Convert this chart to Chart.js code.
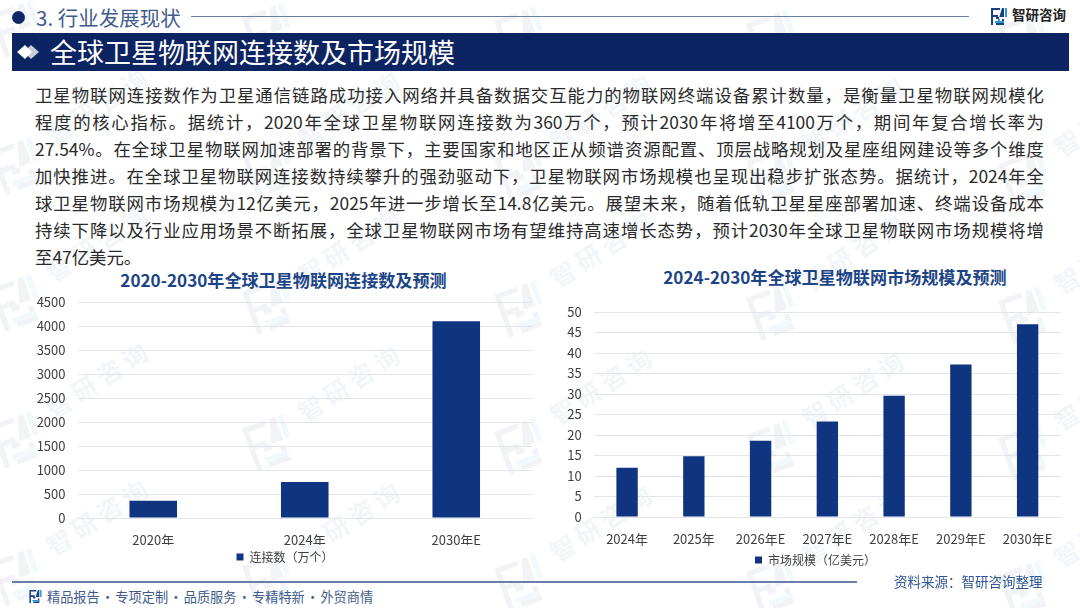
<!DOCTYPE html>
<html lang="zh"><head><meta charset="utf-8">
<script src="https://cdn.jsdelivr.net/npm/chart.js@4"></script>
<style>
html,body{margin:0;padding:0;background:#fff}
#page{position:relative;width:1080px;height:608px;overflow:hidden;background:#fff;font-family:"Noto Sans CJK SC","Noto Sans",sans-serif}
#page>*{position:absolute}
.wm{color:#d5dfec;opacity:.3;font-size:25px;font-weight:700;letter-spacing:5px;transform:rotate(-33deg);white-space:nowrap}
.wl{opacity:.055;transform:rotate(-20deg)}
.line{left:35px;width:1009px;height:27px;line-height:27px;font-size:17.4px;color:#2a2a2a;text-align:justify;text-align-last:justify;white-space:nowrap}
.ct{font-size:17.1px;font-weight:700;color:#1c4587;white-space:nowrap;transform:translateX(-50%)}
canvas{display:block}
</style></head><body>
<div id="page">
  <div id="wms" style="left:0;top:0;width:1080px;height:608px;position:absolute"></div>
  <div style="left:12px;top:11px;width:13px;height:13px;border-radius:50%;background:#10286a"></div>
  <div style="left:36px;top:1px;font-size:20.5px;line-height:32px;color:#3f5c8c;white-space:nowrap">3. 行业发展现状</div>
  <div style="left:191px;top:15.5px;width:778px;height:1.5px;background:#6a7ea8"></div>
  <svg style="left:991px;top:8px" width="16" height="17" viewBox="0 0 16 17"><path d="M0 0h9v2H2v5h5v2H2v8H0z M11 0h2v9H5v2h6v4H5v2h8v-6H8v-1" fill="#1d3f86"/><path d="M14 0h2v9h-2z M7 11h2v2H7z M4 13h9v2H4z" fill="#2a9ad6"/></svg>
  <div style="left:1012px;top:2px;font-size:13.5px;line-height:24px;font-weight:700;color:#222;white-space:nowrap">智研咨询</div>
  <div style="left:12px;top:33px;width:1057px;height:38px;background:#0c2461"></div>
  <svg style="left:16px;top:43px" width="26" height="18" viewBox="0 0 26 18"><path d="M8 9l7-7 8 7-8 7z" fill="#c9cdd8"/><path d="M1 9l8-7 7 7-7 7z" fill="#fff"/></svg>
  <div style="left:50px;top:33px;font-size:27px;line-height:38px;color:#fff;white-space:nowrap">全球卫星物联网连接数及市场规模</div>
  <div id="body"></div>
  <div class="ct" id="t1" style="left:283.5px;top:268px;line-height:24px"></div>
  <div class="ct" id="t2" style="left:835px;top:265px;line-height:24px"></div>
  <canvas id="c1" width="524" height="308" style="left:20px;top:265px"></canvas>
  <canvas id="c2" width="504" height="311" style="left:560px;top:265px"></canvas>
  <div style="left:12px;top:581px;width:845px;height:1.5px;background:#6a7ea8"></div>
  <svg style="left:29px;top:590px" width="13" height="13" viewBox="0 0 16 17"><path d="M0 0h9v2H2v5h5v2H2v8H0z M11 0h2v9H5v2h6v4H5v2h8v-6H8v-1" fill="#1d3f86"/><path d="M14 0h2v9h-2z M4 13h9v2H4z" fill="#2a9ad6"/></svg>
  <div style="left:47px;top:585px;font-size:13.2px;line-height:24px;color:#3f5c8c;white-space:pre;word-spacing:-1.75px">精品报告 · 专项定制 · 品质服务 · 专精特新 · 外贸商情</div>
  <div style="left:894px;top:569px;font-size:13.5px;line-height:24px;color:#2f5597;white-space:nowrap">资料来源：智研咨询整理</div>
</div>
<script>
const bodyLines = [
"卫星物联网连接数作为卫星通信链路成功接入网络并具备数据交互能力的物联网终端设备累计数量，是衡量卫星物联网规模化",
"程度的核心指标。据统计，2020年全球卫星物联网连接数为360万个，预计2030年将增至4100万个，期间年复合增长率为",
"27.54%。在全球卫星物联网加速部署的背景下，主要国家和地区正从频谱资源配置、顶层战略规划及星座组网建设等多个维度",
"加快推进。在全球卫星物联网连接数持续攀升的强劲驱动下，卫星物联网市场规模也呈现出稳步扩张态势。据统计，2024年全",
"球卫星物联网市场规模为12亿美元，2025年进一步增长至14.8亿美元。展望未来，随着低轨卫星星座部署加速、终端设备成本",
"持续下降以及行业应用场景不断拓展，全球卫星物联网市场有望维持高速增长态势，预计2030年全球卫星物联网市场规模将增",
"至47亿美元。"];
const title1 = "2020-2030年全球卫星物联网连接数及预测";
const title2 = "2024-2030年全球卫星物联网市场规模及预测";
const categories1 = ["2020年","2024年","2030年E"];
const values1 = [360,750,4100];
const seriesName1 = "连接数（万个）";
const categories2 = ["2024年","2025年","2026年E","2027年E","2028年E","2029年E","2030年E"];
const values2 = [12,14.8,18.6,23.3,29.6,37.2,47];
const seriesName2 = "市场规模（亿美元）";

document.getElementById('t1').textContent = title1;
document.getElementById('t2').textContent = title2;
const bodyEl = document.getElementById('body');
bodyLines.forEach((t,i)=>{const d=document.createElement('div');d.className='line';d.textContent=t;d.style.position='absolute';d.style.top=(81+i*27)+'px';if(i===bodyLines.length-1){d.style.textAlignLast='left';}bodyEl.appendChild(d);});

const wms = document.getElementById('wms');
const logo = '<path d="M0 0h9v2H2v5h5v2H2v8H0z M11 0h2v9H5v2h6v4H5v2h8v-6H8v-1" fill="#1d3f86"/><path d="M14 0h2v9h-2z M4 13h9v2H4z" fill="#2a9ad6"/>';
for(let r=-2;r<4;r++){for(let c=-1;c<5;c++){
  const x=96+252*c, y=380+137*r+c*3;
  const t=document.createElement('div');t.className='wm';t.textContent='智研咨询';t.style.position='absolute';t.style.left=(x-58)+'px';t.style.top=(y-20)+'px';wms.appendChild(t);
  const s=document.createElementNS('http://www.w3.org/2000/svg','svg');s.setAttribute('class','wl');s.setAttribute('viewBox','0 0 16 17');s.setAttribute('width','44');s.setAttribute('height','46');s.style.position='absolute';s.style.left=(x-100)+'px';s.style.top=(y-100)+'px';s.innerHTML=logo;wms.appendChild(s);
}}

const FONT = '"Noto Sans CJK SC","Noto Sans",sans-serif';
const BAR = '#0f3581', GRID = '#e2e5ea', TXT = '#404040';
function build(id, cats, vals, name, max, step, yW, xH, pad, catPct, tickPad, legendShift){
  new Chart(document.getElementById(id),{
    type:'bar',
    data:{labels:cats,datasets:[{label:name,data:vals,backgroundColor:BAR,barPercentage:1,categoryPercentage:catPct}]},
    plugins:[{id:'legendShift',afterLayout(chart){chart.legend.left+=legendShift;chart.legend.right+=legendShift;}}],
    options:{
      responsive:false,animation:false,devicePixelRatio:1,
      layout:{padding:pad},
      plugins:{title:{display:false},tooltip:{enabled:false},
        legend:{position:'bottom',labels:{boxWidth:7,boxHeight:7,padding:6,color:TXT,font:{family:FONT,size:12}}}},
      scales:{
        x:{grid:{display:false},border:{color:GRID},afterFit(a){a.height=xH;},
           ticks:{color:TXT,font:{family:FONT,size:13},padding:tickPad,maxRotation:0,autoSkip:false}},
        y:{min:0,max:max,grid:{color:GRID,drawTicks:false},border:{display:false},afterFit(a){a.width=yW;},
           ticks:{stepSize:step,color:TXT,font:{family:FONT,size:13},padding:12,callback:v=>String(v)}}
      }
    }
  });
}
build('c1',categories1,values1,seriesName1,4500,500,57.5,27,{top:37,right:12,left:0,bottom:0},0.314,6,9);
build('c2',categories2,values2,seriesName2,50,5,33.7,31,{top:47,right:3,left:0,bottom:0},0.32,6,5);
</script>
</body></html>
